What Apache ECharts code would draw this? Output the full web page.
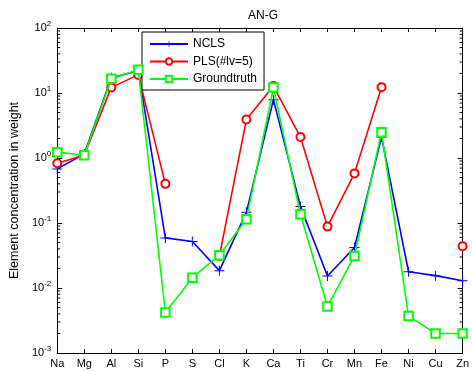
<!DOCTYPE html>
<html><head><meta charset="utf-8">
<script src="https://cdn.jsdelivr.net/npm/echarts@6/dist/echarts.min.js"></script>
<style>html,body{margin:0;padding:0;background:#fff}#c{width:472px;height:371px}</style>
</head><body><div id="c"></div>
<script>
const categories = ['Na','Mg','Al','Si','P','S','Cl','K','Ca','Ti','Cr','Mn','Fe','Ni','Cu','Zn'];
const nclsValues = [0.68, 1.15, 17.2, 22, 0.059, 0.052, 0.0185, 0.146, 7.9, 0.18, 0.0153, 0.042, 2.1, 0.0178, 0.0155, 0.0129];
const plsValues  = [0.83, 1.1, 12.2, 19, 0.40, null, 0.031, 3.9, 12.8, 2.1, 0.088, 0.58, 12.3, null, null, 0.044];
const gtValues   = [1.23, 1.1, 16.6, 22.8, 0.0042, 0.0144, 0.032, 0.114, 12.1, 0.136, 0.0052, 0.031, 2.5, 0.0037, 0.0020, 0.0020];
const seriesNames = ['NCLS', 'PLS(#lv=5)', 'Groundtruth'];
const yMin = 0.001, yMax = 100;

const FONT = 'Liberation Sans, Arial, sans-serif';
const plusPath = 'path://M9,0L11,0L11,9L20,9L20,11L11,11L11,20L9,20L9,11L0,11L0,9L9,9Z';
const chart = echarts.init(document.getElementById('c'), null, {renderer:'canvas'});
const axisLine = {show:true, lineStyle:{color:'#000', width:1}};
const option = {
  animation:false,
  backgroundColor:'#fff',
  title:{text:'AN-G', left:258, top:5, textAlign:'center',
    textStyle:{fontFamily:FONT, fontSize:12, fontWeight:'normal', color:'#000'}},
  grid:{left:52, right:6, top:28, bottom:18, containLabel:false},
  legend:{orient:'vertical', left:142, top:32, itemGap:5.5, itemWidth:38, itemHeight:8,
    padding:[6,7,5,7], borderColor:'#000', borderWidth:1, backgroundColor:'#fff',
    textStyle:{fontFamily:FONT, fontSize:12, color:'#000'},
    data:seriesNames},
  xAxis:[
    {type:'category', data:categories, boundaryGap:false, position:'bottom',
     axisLine:axisLine, axisTick:{show:true, inside:true, length:4, lineStyle:{color:'#000'}},
     axisLabel:{fontFamily:FONT, fontSize:11, color:'#000', margin:5, interval:0}, splitLine:{show:false}},
    {type:'category', data:categories, boundaryGap:false, position:'top',
     axisLine:axisLine, axisTick:{show:true, inside:true, length:4, lineStyle:{color:'#000'}},
     axisLabel:{show:false}, splitLine:{show:false}}
  ],
  yAxis:[
    {type:'log', logBase:10, min:yMin, max:yMax, position:'left',
     name:'Element concentration in weight', nameLocation:'middle', nameGap:35,
     nameTextStyle:{fontFamily:FONT, fontSize:12.5, color:'#000'},
     axisLine:axisLine, axisTick:{show:true, inside:true, length:5, lineStyle:{color:'#000'}},
     splitLine:{show:false},
     axisLabel:{color:'#000', margin:6, formatter:function(v){
        const e = Math.round(Math.log10(v));
        return '{b|10}{s|' + e + '}';
     }, rich:{b:{fontFamily:FONT, fontSize:11, color:'#000'}, s:{fontFamily:FONT, fontSize:8, color:'#000', padding:[0,0,9,0]}}}},
    {type:'log', logBase:10, min:yMin, max:yMax, position:'right',
     axisLine:axisLine, axisTick:{show:true, inside:true, length:5, lineStyle:{color:'#000'}},
     splitLine:{show:false}, axisLabel:{show:false}}
  ],
  series:[
    {name:seriesNames[0], type:'line', data:nclsValues, symbol:plusPath, symbolSize:10,
     lineStyle:{color:'#0000ff', width:1.6}, itemStyle:{color:'#0000ff'}, z:2},
    {name:seriesNames[1], type:'line', data:plsValues, symbol:'emptyCircle', symbolSize:8, connectNulls:false,
     lineStyle:{color:'#ff0000', width:1.6}, itemStyle:{color:'#ff0000', borderWidth:1.5}, z:3},
    {name:seriesNames[2], type:'line', data:gtValues, symbol:'emptyRect', symbolSize:8.5,
     lineStyle:{color:'#00ff00', width:1.6}, itemStyle:{color:'#00ff00', borderWidth:1.5}, z:4}
  ]
};
chart.setOption(option);

// minor log ticks (2..9 per decade) on left and right axes
const gr = [];
const x0 = chart.convertToPixel({xAxisIndex:0}, 0);
const x1 = chart.convertToPixel({xAxisIndex:0}, categories.length - 1);
for (let e = -3; e < 2; e++) {
  for (let m = 2; m <= 9; m++) {
    const y = chart.convertToPixel({yAxisIndex:0}, m * Math.pow(10, e));
    gr.push({type:'line', shape:{x1:x0, y1:y, x2:x0+3, y2:y}, style:{stroke:'#000', lineWidth:1}, silent:true});
    gr.push({type:'line', shape:{x1:x1, y1:y, x2:x1-3, y2:y}, style:{stroke:'#000', lineWidth:1}, silent:true});
  }
}
chart.setOption({graphic:gr});
</script></body></html>
